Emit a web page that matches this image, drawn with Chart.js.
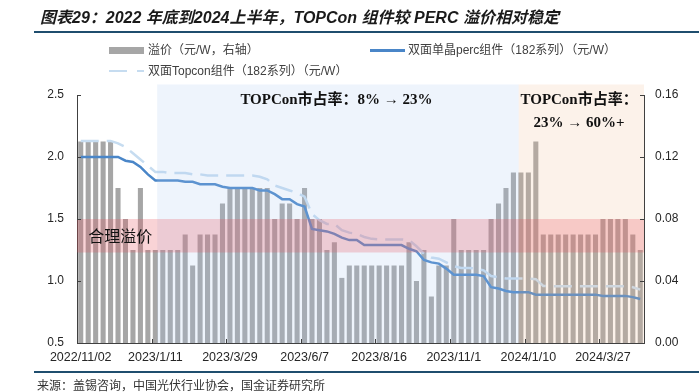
<!DOCTYPE html>
<html>
<head>
<meta charset="utf-8">
<script src="https://cdn.jsdelivr.net/npm/chart.js@4.4.1/dist/chart.umd.min.js"></script>
<style>
  body { margin: 0; background: #fff; font-family: "Liberation Sans", "Noto Sans CJK SC", sans-serif; }
  #wrap { position: relative; width: 699px; height: 392px; overflow: hidden; }
  #c { position: absolute; left: 0; top: 0; }
  .title { position: absolute; left: 40px; top: 8px; height: 19px; line-height: 19px; font-size: 16px; font-weight: bold; font-style: italic; color: #1a1a1a; white-space: nowrap; }
  .lg { position: absolute; font-size: 12px; line-height: 14px; height: 14px; color: #404040; white-space: nowrap; }
  .sw { position: absolute; }
  .src { position: absolute; left: 37px; top: 379px; height: 14px; line-height: 14px; font-size: 12px; color: #333; white-space: nowrap; }
</style>
</head>
<body>
<div id="wrap">
  <canvas id="c" width="699" height="392"></canvas>
  <div class="title">图表29：2022 年底到2024上半年，TOPCon 组件较 PERC 溢价相对稳定</div>

  <div class="sw" style="left:109px;top:47px;width:35px;height:7px;background:#a6a6a6"></div>
  <div class="lg" style="left:148px;top:43px">溢价（元/W，右轴）</div>
  <div class="sw" style="left:370px;top:49px;width:35px;height:3px;background:#4a86c8"></div>
  <div class="lg" style="left:408px;top:43px">双面单晶perc组件（182系列）（元/W）</div>
  <div class="sw" style="left:109px;top:70px;width:18px;height:2px;background:#c6dcf0"></div>
  <div class="sw" style="left:137px;top:70px;width:7px;height:2px;background:#c6dcf0"></div>
  <div class="lg" style="left:148px;top:64px">双面Topcon组件（182系列）（元/W）</div>

  <div class="src">来源：盖锡咨询，中国光伏行业协会，国金证券研究所</div>
</div>

<script>
// ---- 数据 ----
const labels = [
  "2022/11/02", "2022/11/9", "2022/11/16", "2022/11/23", "2022/11/30", "2022/12/7", "2022/12/14", "2022/12/21", "2022/12/28", "2023/1/4",
  "2023/1/11", "2023/1/18", "2023/2/1", "2023/2/8", "2023/2/15", "2023/2/22", "2023/3/1", "2023/3/8", "2023/3/15", "2023/3/22",
  "2023/3/29", "2023/4/5", "2023/4/12", "2023/4/19", "2023/4/26", "2023/5/4", "2023/5/10", "2023/5/17", "2023/5/24", "2023/5/31",
  "2023/6/7", "2023/6/14", "2023/6/21", "2023/6/28", "2023/7/5", "2023/7/12", "2023/7/19", "2023/7/26", "2023/8/2", "2023/8/9",
  "2023/8/16", "2023/8/23", "2023/8/30", "2023/9/6", "2023/9/13", "2023/9/20", "2023/9/27", "2023/10/11", "2023/10/18", "2023/10/25",
  "2023/11/1", "2023/11/8", "2023/11/15", "2023/11/22", "2023/11/29", "2023/12/6", "2023/12/13", "2023/12/20", "2023/12/27", "2024/1/3",
  "2024/1/10", "2024/1/17", "2024/1/24", "2024/1/31", "2024/2/7", "2024/2/21", "2024/2/28", "2024/3/6", "2024/3/13", "2024/3/20",
  "2024/3/27", "2024/4/3", "2024/4/10", "2024/4/17", "2024/4/24", "2024/5/1"
];

// 溢价（元/W，右轴）
const premium = [
  0.13, 0.13, 0.13, 0.13, 0.13, 0.10, 0.08, 0.06, 0.10, 0.06,
  0.06, 0.06, 0.06, 0.06, 0.07, 0.05, 0.07, 0.07, 0.07, 0.09,
  0.10, 0.10, 0.10, 0.10, 0.10, 0.10, 0.08, 0.09, 0.09, 0.08,
  0.10, 0.08, 0.08, 0.06, 0.065, 0.042, 0.05, 0.05, 0.05, 0.05,
  0.05, 0.05, 0.05, 0.05, 0.065, 0.04, 0.06, 0.03, 0.05, 0.05,
  0.08, 0.06, 0.06, 0.06, 0.06, 0.08, 0.09, 0.10, 0.11, 0.11,
  0.11, 0.13, 0.07, 0.07, 0.07, 0.07, 0.07, 0.07, 0.07, 0.07,
  0.08, 0.08, 0.08, 0.08, 0.07, 0.06
];

// 双面单晶perc组件（182系列）（元/W）
const percPrice = [
  2.00, 2.00, 2.00, 2.00, 2.00, 2.00, 1.97, 1.96, 1.92, 1.86,
  1.81, 1.81, 1.81, 1.81, 1.80, 1.80, 1.78, 1.78, 1.78, 1.76,
  1.75, 1.75, 1.75, 1.75, 1.73, 1.73, 1.70, 1.66, 1.66, 1.62,
  1.60, 1.42, 1.41, 1.40, 1.38, 1.35, 1.33, 1.33, 1.29, 1.29,
  1.29, 1.29, 1.29, 1.29, 1.26, 1.24, 1.17, 1.15, 1.14, 1.10,
  1.05, 1.05, 1.05, 1.05, 1.04, 0.95, 0.94, 0.92, 0.91, 0.91,
  0.91, 0.89, 0.89, 0.89, 0.89, 0.89, 0.89, 0.89, 0.89, 0.89,
  0.88, 0.88, 0.88, 0.88, 0.87, 0.855
];

// 双面Topcon组件（182系列）（元/W）
const topconPrice = [
  2.13, 2.13, 2.13, 2.13, 2.13, 2.11, 2.08, 2.03, 1.98, 1.93,
  1.88, 1.88, 1.87, 1.87, 1.87, 1.86, 1.86, 1.85, 1.85, 1.85,
  1.85, 1.85, 1.85, 1.85, 1.84, 1.82, 1.77, 1.75, 1.73, 1.71,
  1.68, 1.54, 1.49, 1.46, 1.46, 1.41, 1.39, 1.38, 1.355, 1.34,
  1.335, 1.335, 1.335, 1.335, 1.33, 1.28, 1.22, 1.19, 1.18, 1.15,
  1.12, 1.105, 1.105, 1.10, 1.086, 1.04, 1.03, 1.02, 1.02, 1.02,
  1.02, 1.015, 0.96, 0.957, 0.957, 0.957, 0.957, 0.957, 0.957, 0.957,
  0.957, 0.957, 0.957, 0.957, 0.95, 0.93
];

const leftRange = [0.5, 2.5];
const leftStep = 0.5;
const rightRange = [0, 0.16];
const rightStep = 0.04;
const labelEvery = 10;

// 合理溢价区间（左轴）
const fairBand = [1.23, 1.5];
// 市占率阶段（类目序号）
const phaseBounds = [10.25, 58.7, 75.5];
const phaseTop = 2.585;

// ---- 绘图 ----
const GRAY = "#a6a6a6";
const BLUE = "#4a86c8";
const LIGHT = "#c6dcf0";
const AXIS = "#404040";
const RULE = "#1f4e6e";

const decor = {
  id: "decor",
  beforeDraw(chart) {
    // 标题下和来源上的分隔线
    const { ctx } = chart;
    ctx.save();
    ctx.fillStyle = RULE;
    ctx.fillRect(34, 31, chart.width - 34, 2);
    ctx.fillRect(34, 371, chart.width - 34, 2);
    ctx.restore();
  },
  afterDatasetsDraw(chart) {
    const { ctx, chartArea: a, scales: { x, y } } = chart;
    const top = y.getPixelForValue(phaseTop);
    const p0 = x.getPixelForValue(phaseBounds[0]);
    const p1 = x.getPixelForValue(phaseBounds[1]);
    const p2 = x.getPixelForValue(phaseBounds[2]);
    ctx.save();
    ctx.fillStyle = "rgba(170,200,240,0.2)";
    ctx.fillRect(p0, top, p1 - p0, a.bottom - top);
    ctx.fillStyle = "rgba(240,190,150,0.2)";
    ctx.fillRect(p1, top, p2 - p1, a.bottom - top);
    const b0 = y.getPixelForValue(fairBand[1]);
    const b1 = y.getPixelForValue(fairBand[0]);
    ctx.fillStyle = "rgba(230,80,90,0.25)";
    ctx.fillRect(a.left, b0, a.right - a.left, b1 - b0);
    ctx.restore();
  },
  afterDraw(chart) {
    const { ctx, chartArea: a, scales: { x, y, y1 } } = chart;
    ctx.save();
    // 刻度线朝内
    ctx.strokeStyle = AXIS;
    ctx.lineWidth = 1;
    ctx.beginPath();
    y.ticks.forEach(t => {
      const py = Math.round(y.getPixelForValue(t.value)) + 0.5;
      ctx.moveTo(a.left, py); ctx.lineTo(a.left + 4, py);
    });
    y1.ticks.forEach(t => {
      const py = Math.round(y1.getPixelForValue(t.value)) + 0.5;
      ctx.moveTo(a.right - 4, py); ctx.lineTo(a.right, py);
    });
    for (let i = labelEvery; i < labels.length; i += labelEvery) {
      const px = Math.round(x.getPixelForValue(i - 0.5)) + 0.5;
      ctx.moveTo(px, a.bottom); ctx.lineTo(px, a.bottom - 4);
    }
    ctx.stroke();

    // 注释文字
    ctx.fillStyle = "#111";
    ctx.textBaseline = "middle";
    ctx.font = '16px "Noto Sans CJK SC", sans-serif';
    ctx.textAlign = "left";
    ctx.fillText("合理溢价", x.getPixelForValue(1.0), y.getPixelForValue(1.36));
    ctx.font = 'bold 15px "Liberation Serif", "Noto Sans CJK SC", serif';
    ctx.fillText("TOPCon市占率：8% → 23%", x.getPixelForValue(21.4), y.getPixelForValue(2.457));
    ctx.textAlign = "center";
    ctx.fillText("TOPCon市占率：", x.getPixelForValue(66.8), y.getPixelForValue(2.457));
    ctx.fillText("23% → 60%+", x.getPixelForValue(66.8), y.getPixelForValue(2.272));
    ctx.restore();
  }
};

new Chart(document.getElementById("c"), {
  type: "bar",
  data: {
    labels,
    datasets: [
      { label: "双面单晶perc组件（182系列）（元/W）", type: "line", data: percPrice, yAxisID: "y", borderColor: BLUE, borderWidth: 2.5, pointRadius: 0, tension: 0, order: 1 },
      { label: "双面Topcon组件（182系列）（元/W）", type: "line", data: topconPrice, yAxisID: "y", borderColor: LIGHT, borderWidth: 2.5, borderDash: [18, 8], pointRadius: 0, tension: 0, order: 2 },
      { label: "溢价（元/W，右轴）", data: premium, yAxisID: "y1", backgroundColor: GRAY, barPercentage: 0.68, categoryPercentage: 1, order: 3 }
    ]
  },
  options: {
    responsive: false,
    animation: false,
    devicePixelRatio: 1,
    layout: { padding: { top: 95, left: 0, right: 0, bottom: 0 } },
    plugins: { legend: { display: false }, tooltip: { enabled: false } },
    scales: {
      x: {
        grid: { display: false, drawTicks: false },
        border: { color: AXIS },
        ticks: {
          autoSkip: false, maxRotation: 0, padding: 7, color: "#262626",
          font: { family: "Liberation Sans", size: 12.5 },
          callback: (v, i) => (i % labelEvery === 0 ? labels[i] : "")
        },
        afterFit(s) { s.height = 49; }
      },
      y: {
        position: "left", min: leftRange[0], max: leftRange[1],
        grid: { display: false, drawTicks: false },
        border: { color: AXIS },
        ticks: { stepSize: leftStep, padding: 13, color: "#262626", font: { family: "Liberation Sans", size: 12 }, callback: v => v.toFixed(1) },
        afterFit(s) { s.width = 77; }
      },
      y1: {
        position: "right", min: rightRange[0], max: rightRange[1],
        grid: { display: false, drawTicks: false },
        border: { color: AXIS },
        ticks: { stepSize: rightStep, padding: 11, color: "#262626", font: { family: "Liberation Sans", size: 12 }, callback: v => v.toFixed(2) },
        afterFit(s) { s.width = 55; }
      }
    }
  },
  plugins: [decor]
});
</script>
</body>
</html>
